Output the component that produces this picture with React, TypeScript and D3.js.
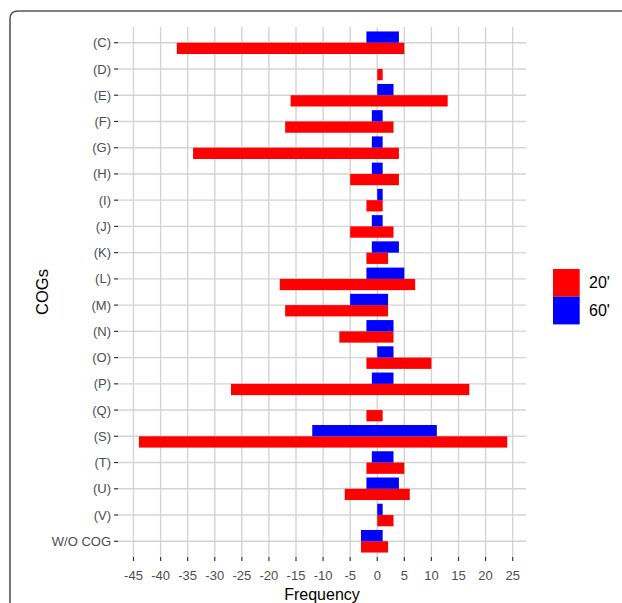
import React, { useEffect, useRef } from "react";
import * as d3 from "d3";

// COG categories, top to bottom
const categories = [
  "(C)", "(D)", "(E)", "(F)", "(G)", "(H)", "(I)", "(J)", "(K)", "(L)",
  "(M)", "(N)", "(O)", "(P)", "(Q)", "(S)", "(T)", "(U)", "(V)", "W/O COG",
];

// down (negative) and up (positive) counts per series
const down20 = [-37, 0, -16, -17, -34, -5, -2, -5, -2, -18, -17, -7, -2, -27, -2, -44, -2, -6, 0, -3];
const up20 = [5, 1, 13, 3, 4, 4, 1, 3, 2, 7, 2, 3, 10, 17, 1, 24, 5, 6, 3, 2];
const down60 = [-2, 0, 0, -1, -1, -1, 0, -1, -1, -2, -5, -2, 0, -1, 0, -12, -1, -2, 0, -3];
const up60 = [4, 0, 3, 1, 1, 1, 1, 1, 4, 5, 2, 3, 3, 3, 0, 11, 3, 4, 1, 1];

const xTicks = [-45, -40, -35, -30, -25, -20, -15, -10, -5, 0, 5, 10, 15, 20, 25];
const seriesNames = ["20'", "60'"];
const seriesColors = ["#FF0000", "#0000FF"];

const App = () => {
  const ref = useRef<SVGSVGElement>(null);

  useEffect(() => {
    if (!ref.current) return;
    const svg = d3.select(ref.current);
    svg.selectAll("*").remove();

    const left = 118, right = 526, top = 27, bottom = 557;
    const font = "Liberation Sans, Arial, sans-serif";

    // frame around the figure
    svg.append("path")
      .attr("d", "M10,640 L10,19 Q10,11 18,11 L640,11")
      .attr("fill", "none")
      .attr("stroke", "#555")
      .attr("stroke-width", 1.6);

    const x = d3.scaleLinear().domain([-47.86, 27.46]).range([left, right]);
    const y = d3.scaleBand().domain(categories).range([top, bottom]).paddingOuter(0.1).paddingInner(0);
    const bw = y.bandwidth();

    // grid
    const grid = svg.append("g");
    xTicks.forEach((t) => {
      grid.append("line")
        .attr("x1", x(t)).attr("x2", x(t))
        .attr("y1", top).attr("y2", bottom)
        .attr("stroke", "#D3D3D3").attr("stroke-width", 1.4);
    });
    categories.forEach((c) => {
      const cy = y(c)! + bw / 2;
      grid.append("line")
        .attr("x1", left).attr("x2", right)
        .attr("y1", cy).attr("y2", cy)
        .attr("stroke", "#D3D3D3").attr("stroke-width", 1.4);
    });

    // bars: 60' above center, 20' below
    const barH = bw * 0.43;
    const series = [
      { down: down20, up: up20, color: seriesColors[0], offset: 0 },
      { down: down60, up: up60, color: seriesColors[1], offset: -barH },
    ];
    series.forEach((s) => {
      svg.append("g")
        .selectAll("rect")
        .data(categories.map((c, i) => ({ c, lo: s.down[i], hi: s.up[i] })).filter((d) => d.hi - d.lo > 0))
        .enter()
        .append("rect")
        .attr("x", (d) => x(d.lo))
        .attr("width", (d) => x(d.hi) - x(d.lo))
        .attr("y", (d) => y(d.c)! + bw / 2 + s.offset)
        .attr("height", barH)
        .attr("fill", s.color);
    });

    // y axis
    const yAxis = svg.append("g");
    categories.forEach((c) => {
      const cy = y(c)! + bw / 2;
      yAxis.append("line")
        .attr("x1", left - 4).attr("x2", left)
        .attr("y1", cy).attr("y2", cy)
        .attr("stroke", "#333").attr("stroke-width", 1.2);
      yAxis.append("text")
        .attr("x", left - 7).attr("y", cy)
        .attr("dy", "0.35em")
        .attr("text-anchor", "end")
        .attr("font-family", font).attr("font-size", 13)
        .attr("fill", "#4D4D4D")
        .text(c);
    });

    // x axis
    const xAxis = svg.append("g");
    xTicks.forEach((t) => {
      xAxis.append("line")
        .attr("x1", x(t)).attr("x2", x(t))
        .attr("y1", bottom).attr("y2", bottom + 4)
        .attr("stroke", "#333").attr("stroke-width", 1.2);
      xAxis.append("text")
        .attr("x", x(t)).attr("y", bottom + 23)
        .attr("text-anchor", "middle")
        .attr("font-family", font).attr("font-size", 13)
        .attr("fill", "#4D4D4D")
        .text(t);
    });

    svg.append("text")
      .attr("x", (left + right) / 2).attr("y", 600)
      .attr("text-anchor", "middle")
      .attr("font-family", font).attr("font-size", 16)
      .attr("fill", "#000")
      .text("Frequency");

    svg.append("text")
      .attr("transform", `translate(48,${(top + bottom) / 2}) rotate(-90)`)
      .attr("text-anchor", "middle")
      .attr("font-family", font).attr("font-size", 16.5)
      .attr("fill", "#000")
      .text("COGs");

    // legend
    const lg = svg.append("g").attr("transform", "translate(553,269)");
    seriesNames.forEach((n, i) => {
      lg.append("rect")
        .attr("x", 0).attr("y", i * 27.7)
        .attr("width", 26.7).attr("height", 27.7)
        .attr("fill", seriesColors[i]);
      lg.append("text")
        .attr("x", 36).attr("y", i * 27.7 + 13.8)
        .attr("dy", "0.35em")
        .attr("font-family", font).attr("font-size", 16)
        .attr("fill", "#000")
        .text(n);
    });
  }, []);

  return (
    <svg
      ref={ref}
      width="622"
      height="603"
      style={{ position: "absolute", left: 0, top: 0, background: "#fff" }}
    ></svg>
  );
};

export default App;
